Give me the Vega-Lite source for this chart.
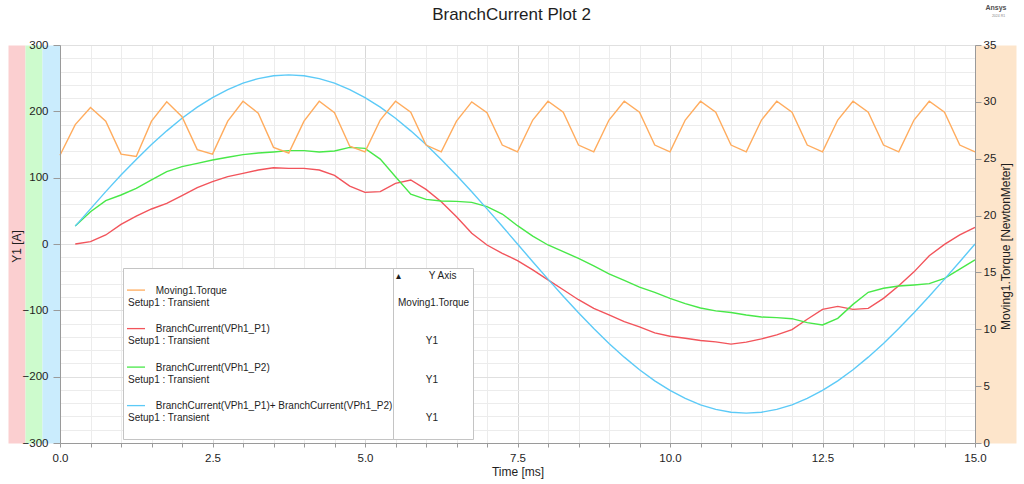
{
  "$schema": "https://vega.github.io/schema/vega-lite/v6.json",
  "autosize": {"type": "none"},
  "width": 915,
  "height": 398,
  "padding": {"left": 60, "top": 45, "right": 49, "bottom": 41},
  "background": "white",
  "datasets": {
    "currents": [
      {"t": 0.25, "p1": 0, "p2": 27, "sum": 27},
      {"t": 0.5, "p1": 3.5, "p2": 48.7, "sum": 53},
      {"t": 0.75, "p1": 13.6, "p2": 65.3, "sum": 79},
      {"t": 1.0, "p1": 29.6, "p2": 73.9, "sum": 104},
      {"t": 1.25, "p1": 42, "p2": 84, "sum": 127.5},
      {"t": 1.5, "p1": 52.8, "p2": 96.5, "sum": 150},
      {"t": 1.75, "p1": 61.3, "p2": 109, "sum": 170.6},
      {"t": 2.0, "p1": 72.9, "p2": 116.6, "sum": 189.5},
      {"t": 2.25, "p1": 84.9, "p2": 121.6, "sum": 206.3},
      {"t": 2.5, "p1": 94, "p2": 126.6, "sum": 220.8},
      {"t": 2.75, "p1": 101.5, "p2": 130.7, "sum": 232.9},
      {"t": 3.0, "p1": 106.5, "p2": 134.7, "sum": 242.5},
      {"t": 3.25, "p1": 111.6, "p2": 137.2, "sum": 249.4},
      {"t": 3.5, "p1": 115, "p2": 138.7, "sum": 253.6},
      {"t": 3.75, "p1": 114, "p2": 140.7, "sum": 255},
      {"t": 4.0, "p1": 114, "p2": 140.7, "sum": 253.6},
      {"t": 4.25, "p1": 111.6, "p2": 138.7, "sum": 249.4},
      {"t": 4.5, "p1": 103.5, "p2": 140.2, "sum": 242.5},
      {"t": 4.75, "p1": 87.4, "p2": 145.7, "sum": 232.9},
      {"t": 5.0, "p1": 77.9, "p2": 144.2, "sum": 220.8},
      {"t": 5.25, "p1": 78.9, "p2": 128, "sum": 206.3},
      {"t": 5.5, "p1": 91.5, "p2": 101.5, "sum": 189.5},
      {"t": 5.75, "p1": 96.5, "p2": 75, "sum": 170.6},
      {"t": 6.0, "p1": 82.4, "p2": 67.3, "sum": 149.9},
      {"t": 6.25, "p1": 63.8, "p2": 64.8, "sum": 127.5},
      {"t": 6.5, "p1": 41.2, "p2": 64.3, "sum": 103.7},
      {"t": 6.75, "p1": 16.1, "p2": 62.8, "sum": 78.8},
      {"t": 7.0, "p1": -1.5, "p2": 56.3, "sum": 53},
      {"t": 7.25, "p1": -14, "p2": 45.2, "sum": 26.7},
      {"t": 7.5, "p1": -25, "p2": 27.6, "sum": 0},
      {"t": 7.75, "p1": -39, "p2": 12, "sum": -26.7},
      {"t": 8.0, "p1": -54, "p2": -1.5, "sum": -53},
      {"t": 8.25, "p1": -69, "p2": -11.6, "sum": -78.8},
      {"t": 8.5, "p1": -84, "p2": -21.6, "sum": -103.7},
      {"t": 8.75, "p1": -97, "p2": -33, "sum": -127.5},
      {"t": 9.0, "p1": -107, "p2": -45, "sum": -149.9},
      {"t": 9.25, "p1": -117, "p2": -55, "sum": -170.6},
      {"t": 9.5, "p1": -125, "p2": -65, "sum": -189.5},
      {"t": 9.75, "p1": -134, "p2": -73, "sum": -206.3},
      {"t": 10.0, "p1": -139, "p2": -82, "sum": -220.8},
      {"t": 10.25, "p1": -142, "p2": -90, "sum": -232.9},
      {"t": 10.5, "p1": -145.5, "p2": -96.5, "sum": -242.5},
      {"t": 10.75, "p1": -147.5, "p2": -100.8, "sum": -249.4},
      {"t": 11.0, "p1": -151, "p2": -103.3, "sum": -253.6},
      {"t": 11.25, "p1": -148, "p2": -107, "sum": -255},
      {"t": 11.5, "p1": -143, "p2": -110, "sum": -253.6},
      {"t": 11.75, "p1": -137, "p2": -111, "sum": -249.4},
      {"t": 12.0, "p1": -129, "p2": -112.6, "sum": -242.5},
      {"t": 12.25, "p1": -113.5, "p2": -118.6, "sum": -232.9},
      {"t": 12.5, "p1": -98.5, "p2": -122, "sum": -220.8},
      {"t": 12.75, "p1": -94, "p2": -112, "sum": -206.3},
      {"t": 13.0, "p1": -98.5, "p2": -91, "sum": -189.5},
      {"t": 13.25, "p1": -97, "p2": -72.8, "sum": -170.6},
      {"t": 13.5, "p1": -82, "p2": -66.8, "sum": -149.9},
      {"t": 13.75, "p1": -63, "p2": -63.3, "sum": -127.5},
      {"t": 14.0, "p1": -42, "p2": -61.8, "sum": -103.7},
      {"t": 14.25, "p1": -17.6, "p2": -59.8, "sum": -78.8},
      {"t": 14.5, "p1": -0.5, "p2": -51.7, "sum": -53},
      {"t": 14.75, "p1": 13.6, "p2": -38, "sum": -26.7},
      {"t": 15.0, "p1": 25, "p2": -24, "sum": 0}
    ],
    "torque": [
      {"t": 0, "tq": 25.3}, {"t": 0.25, "tq": 28.0}, {"t": 0.5, "tq": 29.5}, {"t": 0.75, "tq": 28.3},
      {"t": 1.0, "tq": 25.4}, {"t": 1.25, "tq": 25.2}, {"t": 1.5, "tq": 28.3}, {"t": 1.75, "tq": 30.0},
      {"t": 2.0, "tq": 28.7}, {"t": 2.25, "tq": 25.8}, {"t": 2.5, "tq": 25.4}, {"t": 2.75, "tq": 28.3},
      {"t": 3.0, "tq": 30.05}, {"t": 3.25, "tq": 29.0}, {"t": 3.5, "tq": 26.0}, {"t": 3.75, "tq": 25.5},
      {"t": 4.0, "tq": 28.3}, {"t": 4.25, "tq": 30.05}, {"t": 4.5, "tq": 29.05}, {"t": 4.75, "tq": 26.1},
      {"t": 5.0, "tq": 25.6}, {"t": 5.25, "tq": 28.4}, {"t": 5.5, "tq": 30.05}, {"t": 5.75, "tq": 29.1},
      {"t": 6.0, "tq": 26.2}, {"t": 6.25, "tq": 25.6}, {"t": 6.5, "tq": 28.3}, {"t": 6.75, "tq": 30.0},
      {"t": 7.0, "tq": 29.05}, {"t": 7.25, "tq": 26.2}, {"t": 7.5, "tq": 25.6}, {"t": 7.75, "tq": 28.4},
      {"t": 8.0, "tq": 30.05}, {"t": 8.25, "tq": 29.1}, {"t": 8.5, "tq": 26.2}, {"t": 8.75, "tq": 25.6},
      {"t": 9.0, "tq": 28.4}, {"t": 9.25, "tq": 30.05}, {"t": 9.5, "tq": 29.1}, {"t": 9.75, "tq": 26.2},
      {"t": 10.0, "tq": 25.6}, {"t": 10.25, "tq": 28.4}, {"t": 10.5, "tq": 30.05}, {"t": 10.75, "tq": 29.1},
      {"t": 11.0, "tq": 26.2}, {"t": 11.25, "tq": 25.6}, {"t": 11.5, "tq": 28.4}, {"t": 11.75, "tq": 30.05},
      {"t": 12.0, "tq": 29.1}, {"t": 12.25, "tq": 26.2}, {"t": 12.5, "tq": 25.6}, {"t": 12.75, "tq": 28.4},
      {"t": 13.0, "tq": 30.05}, {"t": 13.25, "tq": 29.1}, {"t": 13.5, "tq": 26.2}, {"t": 13.75, "tq": 25.6},
      {"t": 14.0, "tq": 28.4}, {"t": 14.25, "tq": 30.05}, {"t": 14.5, "tq": 29.1}, {"t": 14.75, "tq": 26.2},
      {"t": 15.0, "tq": 25.6}
    ]
  },
  "layer": [
    {
      "data": {"name": "torque"},
      "mark": {"type": "line", "opacity": 0},
      "encoding": {
        "x": {"field": "t", "type": "quantitative", "scale": {"domain": [0, 15]},
          "axis": {"orient": "bottom", "values": [0, 2.5, 5, 7.5, 10, 12.5, 15], "labels": false, "ticks": false, "domain": false, "grid": true, "gridColor": "#d8d8d8", "title": null, "zindex": 0}},
        "y": {"field": "tq", "type": "quantitative", "scale": {"domain": [0, 35]},
          "axis": {"orient": "left", "values": [0, 5.8333, 11.6667, 17.5, 23.3333, 29.1667, 35], "labels": false, "ticks": false, "domain": false, "grid": true, "gridColor": "#e0e0e0", "title": null, "zindex": 0}}
      }
    },
    {
      "data": {"name": "currents"},
      "transform": [{"fold": ["p1", "p2", "sum"], "as": ["series", "v"]}],
      "mark": {"type": "line", "strokeWidth": 1.4},
      "encoding": {
        "x": {"field": "t", "type": "quantitative", "scale": {"domain": [0, 15]},
          "axis": {"orient": "bottom", "values": [0, 2.5, 5, 7.5, 10, 12.5, 15], "format": ".1f", "labelFlush": false, "title": "Time [ms]", "tickSize": 4, "labelPadding": 5, "titlePadding": 3, "grid": false, "zindex": 1}},
        "y": {"field": "v", "type": "quantitative", "scale": {"domain": [-300, 300]},
          "axis": {"orient": "left", "values": [-300, -200, -100, 0, 100, 200, 300], "title": "Y1 [A]", "tickSize": 7, "labelPadding": 5, "grid": false, "titleX": -43.5, "titleY": 201, "titleAngle": 270, "titleBaseline": "middle", "titleAlign": "center", "zindex": 1}},
        "color": {"field": "series", "type": "nominal",
          "scale": {"domain": ["tq", "p1", "p2", "sum"], "range": ["#ffac5e", "#f2545b", "#48e848", "#5ccaf7"]},
          "legend": {
            "orient": "none", "legendX": 63, "legendY": 223,
            "title": "\u00a0", "titleFontSize": 10, "titleFontWeight": "normal", "titlePadding": 2.7, "titleColor": "#1e1e1e",
            "fillColor": "white", "strokeColor": "#c4c4c4", "padding": 3,
            "symbolType": "M-1,-0.4H1", "symbolSize": 324, "symbolStrokeWidth": 1.3,
            "labelOffset": -18, "labelFontSize": 10, "labelLineHeight": 12.7, "labelBaseline": "alphabetic", "labelLimit": 600, "labelColor": "#1e1e1e",
            "rowPadding": 2.5,
            "labelExpr": "['\u200d\u00a0\u00a0\u00a0\u00a0\u00a0\u00a0\u00a0\u00a0\u00a0\u00a0' + (datum.value == 'tq' ? 'Moving1.Torque' : datum.value == 'p1' ? 'BranchCurrent(VPh1_P1)' : datum.value == 'p2' ? 'BranchCurrent(VPh1_P2)' : 'BranchCurrent(VPh1_P1)+ BranchCurrent(VPh1_P2)'), 'Setup1 : Transient', '']"
          }}
      }
    },
    {
      "data": {"name": "torque"},
      "transform": [{"fold": ["tq"], "as": ["series", "v"]}],
      "mark": {"type": "line", "strokeWidth": 1.4},
      "encoding": {
        "x": {"field": "t", "type": "quantitative", "scale": {"domain": [0, 15]}, "axis": null},
        "y": {"field": "v", "type": "quantitative", "scale": {"domain": [0, 35]},
          "axis": {"orient": "right", "values": [0, 5, 10, 15, 20, 25, 30, 35], "title": "Moving1.Torque [NewtonMeter]", "tickSize": 6, "labelPadding": 2, "grid": false, "titleX": 30, "titleY": 201, "titleAngle": 270, "titleBaseline": "middle", "titleAlign": "center", "zindex": 1}},
        "color": {"field": "series", "type": "nominal"}
      }
    },
    {
      "data": {"name": "currents"},
      "transform": [{"fold": ["p1", "p2", "sum"], "as": ["series", "v"]}],
      "mark": {"type": "line", "opacity": 0},
      "encoding": {
        "x": {"field": "t", "type": "quantitative", "scale": {"domain": [0, 15]},
          "axis": {"orient": "bottom", "values": [0.5, 1, 1.5, 2, 3, 3.5, 4, 4.5, 5.5, 6, 6.5, 7, 8, 8.5, 9, 9.5, 10.5, 11, 11.5, 12, 13, 13.5, 14, 14.5], "labels": false, "domain": false, "tickSize": 4, "grid": true, "gridColor": "#ececec", "title": null}},
        "y": {"field": "v", "type": "quantitative", "scale": {"domain": [-300, 300]},
          "axis": {"orient": "left", "values": [-280, -260, -240, -220, -180, -160, -140, -120, -80, -60, -40, -20, 20, 40, 60, 80, 120, 140, 160, 180, 220, 240, 260, 280], "labels": false, "domain": false, "tickSize": 4, "grid": true, "gridColor": "#ececec", "title": null}},
        "strokeDash": {"field": "series", "type": "nominal",
          "scale": {"domain": ["tq", "p1", "p2", "sum", "zz"], "range": [[4, 2], [4, 2], [4, 2], [4, 2], [4, 2]]},
          "legend": {
            "orient": "none", "legendX": 333, "legendY": 223, "values": ["tq", "p1", "p2", "sum"],
            "title": "\u25b4\u00a0\u00a0\u00a0\u00a0\u00a0\u00a0\u00a0\u00a0\u00a0\u00a0Y Axis", "titleFontSize": 10, "titleFontWeight": "normal", "titlePadding": 2.7, "titleColor": "#1e1e1e",
            "fillColor": "white", "strokeColor": "#c4c4c4", "padding": 3,
            "symbolType": "M-1,-0.4H1", "symbolSize": 324, "symbolOpacity": 0,
            "labelOffset": -18, "labelFontSize": 10, "labelLineHeight": 12.7, "labelBaseline": "alphabetic", "labelLimit": 600, "labelColor": "#1e1e1e",
            "rowPadding": 2.5,
            "labelExpr": "['', datum.value == 'tq' ? 'Moving1.Torque' : '\u200d\u00a0\u00a0\u00a0\u00a0\u00a0\u00a0\u00a0\u00a0\u00a0\u00a0Y1', '']"
          }}
      }
    },
    {
      "data": {"name": "torque"},
      "mark": {"type": "line", "opacity": 0},
      "encoding": {
        "x": {"field": "t", "type": "quantitative", "scale": {"domain": [0, 15]},
          "axis": {"orient": "top", "labels": false, "ticks": false, "domain": false, "grid": false, "title": "Ansys", "titleX": 935.5, "titleY": -37.5, "titleAlign": "center", "titleBaseline": "middle", "titleFontSize": 7, "titleFontWeight": "bold", "titleColor": "#505050"}},
        "y": {"field": "tq", "type": "quantitative", "scale": {"domain": [0, 35]},
          "axis": {"orient": "right", "values": [1, 2, 3, 4, 6, 7, 8, 9, 11, 12, 13, 14, 16, 17, 18, 19, 21, 22, 23, 24, 26, 27, 28, 29, 31, 32, 33, 34], "labels": false, "domain": false, "tickSize": 4, "grid": false, "title": null}}
      }
    },
    {
      "data": {"name": "torque"},
      "mark": {"type": "line", "opacity": 0},
      "encoding": {
        "x": {"field": "t", "type": "quantitative", "scale": {"domain": [0, 15]},
          "axis": {"orient": "top", "labels": false, "ticks": false, "domain": false, "grid": false, "title": "2024 R1", "titleX": 938, "titleY": -29.5, "titleAlign": "center", "titleBaseline": "middle", "titleFontSize": 3.5, "titleFontWeight": "normal", "titleColor": "#888888"}},
        "y": {"field": "tq", "type": "quantitative", "scale": {"domain": [0, 35]},
          "axis": {"orient": "left", "offset": 43.5, "labels": false, "ticks": false, "grid": false, "title": null, "domainWidth": 17, "domainColor": "#fbcfd0", "zindex": 0}}
      }
    },
    {
      "data": {"name": "torque"},
      "mark": {"type": "line", "opacity": 0},
      "encoding": {
        "x": {"field": "t", "type": "quantitative", "scale": {"domain": [0, 15]},
          "axis": {"orient": "top", "labels": false, "ticks": false, "domain": false, "grid": false, "title": "BranchCurrent Plot 2", "titleX": 451, "titleY": -31, "titleAlign": "center", "titleBaseline": "middle", "titleFontSize": 17, "titleFontWeight": "normal", "titleColor": "#1e1e1e"}},
        "y": {"field": "tq", "type": "quantitative", "scale": {"domain": [0, 35]},
          "axis": {"orient": "left", "offset": 26.5, "labels": false, "ticks": false, "grid": false, "title": null, "domainWidth": 17, "domainColor": "#cdfbcd", "zindex": 0}}
      }
    },
    {
      "data": {"name": "torque"},
      "mark": {"type": "line", "opacity": 0},
      "encoding": {
        "x": {"field": "t", "type": "quantitative", "scale": {"domain": [0, 15]}, "axis": null},
        "y": {"field": "tq", "type": "quantitative", "scale": {"domain": [0, 35]},
          "axis": {"orient": "left", "offset": 9, "labels": false, "ticks": false, "grid": false, "title": null, "domainWidth": 18, "domainColor": "#caecfd", "zindex": 0}}
      }
    },
    {
      "data": {"name": "torque"},
      "mark": {"type": "line", "opacity": 0},
      "encoding": {
        "x": {"field": "t", "type": "quantitative", "scale": {"domain": [0, 15]}, "axis": null},
        "y": {"field": "tq", "type": "quantitative", "scale": {"domain": [0, 35]},
          "axis": {"orient": "right", "offset": 20.5, "labels": false, "ticks": false, "grid": false, "title": null, "domainWidth": 41, "domainColor": "#fde5cb", "zindex": 0}}
      }
    }
  ],
  "resolve": {"scale": {"x": "independent", "y": "independent"}},
  "config": {
    "font": "Liberation Sans",
    "view": {"stroke": "#a8a8a8"},
    "axis": {"labelFont": "Liberation Sans", "titleFont": "Liberation Sans", "labelFontSize": 11.5, "titleFontSize": 12, "titleFontWeight": "normal", "labelColor": "#1e1e1e", "titleColor": "#1e1e1e", "domainColor": "#9a9a9a", "tickColor": "#9a9a9a"},
    "legend": {"labelFont": "Liberation Sans", "titleFont": "Liberation Sans"}
  }
}
